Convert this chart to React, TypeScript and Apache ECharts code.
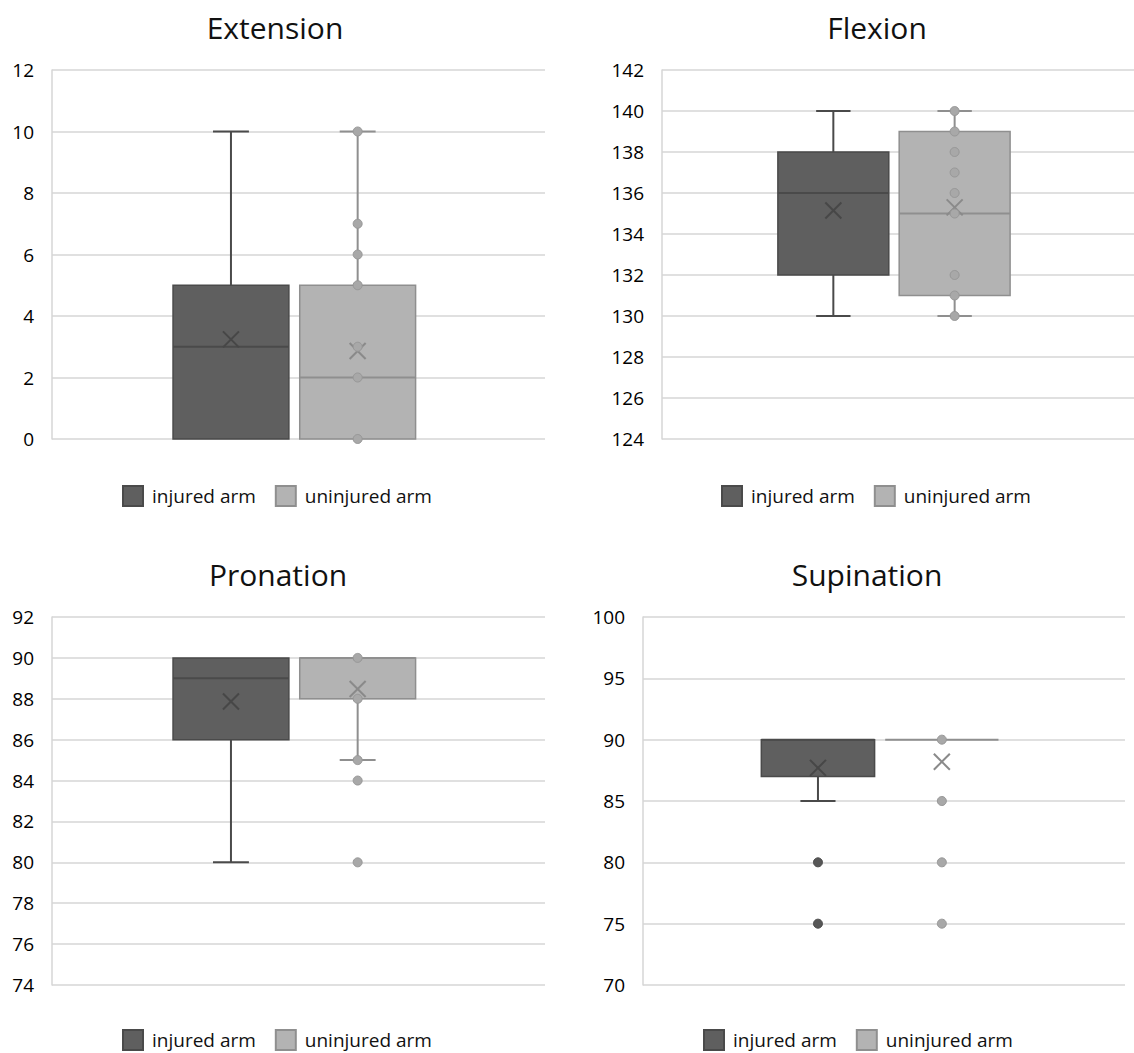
import React, { useEffect, useRef } from "react";
import * as echarts from "echarts";

// ---------- data ----------
const seriesNames = ["injured arm", "uninjured arm"];
const chartTitles = ["Extension", "Flexion", "Pronation", "Supination"];

// [min, q1, median, q3, max, mean]
const extensionInjured = [0, 0, 3, 5, 10, 3.24];
const extensionUninjured = [0, 0, 2, 5, 10, 2.86];
const flexionInjured = [130, 132, 136, 138, 140, 135.15];
const flexionUninjured = [130, 131, 135, 139, 140, 135.3];
const pronationInjured = [80, 86, 89, 90, 90, 87.87];
const pronationUninjured = [85, 88, 90, 90, 90, 88.48];
const supinationInjured = [85, 87, 90, 90, 90, 87.7];
const supinationUninjured = [90, 90, 90, 90, 90, 88.2];

// points drawn on the boxes (inner points and outliers)
const extensionInjuredPoints: number[] = [];
const extensionUninjuredPoints = [0, 2, 3, 5, 6, 7, 10];
const flexionInjuredPoints: number[] = [];
const flexionUninjuredPoints = [130, 131, 132, 135, 136, 137, 138, 139, 140];
const pronationInjuredPoints: number[] = [];
const pronationUninjuredPoints = [80, 84, 85, 88, 90];
const supinationInjuredPoints = [75, 80];
const supinationUninjuredPoints = [75, 80, 85, 90];

// axis ranges
const yMin = [0, 124, 74, 70];
const yMax = [12, 142, 92, 100];
const yStep = [2, 2, 2, 5];

const statsByChart = [
  [extensionInjured, extensionUninjured],
  [flexionInjured, flexionUninjured],
  [pronationInjured, pronationUninjured],
  [supinationInjured, supinationUninjured],
];
const pointsByChart = [
  [extensionInjuredPoints, extensionUninjuredPoints],
  [flexionInjuredPoints, flexionUninjuredPoints],
  [pronationInjuredPoints, pronationUninjuredPoints],
  [supinationInjuredPoints, supinationUninjuredPoints],
];

// ---------- layout / style ----------
const grids = [
  { left: 52, top: 70, width: 493, height: 369 },
  { left: 662, top: 70, width: 472, height: 369 },
  { left: 52, top: 617, width: 493, height: 368 },
  { left: 643, top: 617, width: 482, height: 368 },
];
const titlePos = [
  { x: 275, y: 12 },
  { x: 877, y: 12 },
  { x: 278, y: 559 },
  { x: 867, y: 559 },
];
const legendPos = [
  { x: 122, y: 485 },
  { x: 721, y: 485 },
  { x: 122, y: 1029 },
  { x: 703, y: 1029 },
];

const offsets = [-0.137, 0.12];
const boxFrac = 0.235;
const styles = [
  { fill: "#5f5f5f", stroke: "#4a4a4a", mean: "#474747", point: "#575757", pointStroke: "#4a4a4a" },
  { fill: "#b3b3b3", stroke: "#8f8f8f", mean: "#8a8a8a", point: "#a8a8a8", pointStroke: "#979797" },
];

const FONT = "'Open Sans', 'Noto Sans', sans-serif";

function makeBoxRender(off: number, st: any) {
  return (params: any, api: any) => {
    const band = api.size([1, 0])[0];
    const cx = api.coord([api.value(0), api.value(3)])[0] + off * band;
    const y = (v: number) => api.coord([api.value(0), v])[1];
    const mn = api.value(1), q1 = api.value(2), md = api.value(3), q3 = api.value(4), mx = api.value(5), mean = api.value(6);
    const bw = band * boxFrac;
    const cap = bw * 0.31;
    const lineStyle = { stroke: st.stroke, lineWidth: 2 };
    const children: any[] = [];
    if (mn < q1) {
      children.push({ type: "line", shape: { x1: cx, y1: y(mn), x2: cx, y2: y(q1) }, style: lineStyle });
      children.push({ type: "line", shape: { x1: cx - cap / 2, y1: y(mn), x2: cx + cap / 2, y2: y(mn) }, style: lineStyle });
    }
    if (mx > q3) {
      children.push({ type: "line", shape: { x1: cx, y1: y(mx), x2: cx, y2: y(q3) }, style: lineStyle });
      children.push({ type: "line", shape: { x1: cx - cap / 2, y1: y(mx), x2: cx + cap / 2, y2: y(mx) }, style: lineStyle });
    }
    if (q3 > q1) {
      children.push({
        type: "rect",
        shape: { x: cx - bw / 2, y: y(q3), width: bw, height: y(q1) - y(q3) },
        style: { fill: st.fill, stroke: st.stroke, lineWidth: 1.5 },
      });
    }
    children.push({
      type: "line",
      shape: { x1: cx - bw / 2, y1: y(md), x2: cx + bw / 2, y2: y(md) },
      style: lineStyle,
    });
    const h = 8;
    const my = y(mean);
    children.push({ type: "line", shape: { x1: cx - h, y1: my - h, x2: cx + h, y2: my + h }, style: { stroke: st.mean, lineWidth: 2 } });
    children.push({ type: "line", shape: { x1: cx - h, y1: my + h, x2: cx + h, y2: my - h }, style: { stroke: st.mean, lineWidth: 2 } });
    return { type: "group", children };
  };
}

function makePointRender(off: number, st: any) {
  return (params: any, api: any) => {
    const band = api.size([1, 0])[0];
    const p = api.coord([api.value(0), api.value(1)]);
    return {
      type: "circle",
      shape: { cx: p[0] + off * band, cy: p[1], r: 4.5 },
      style: { fill: st.point, stroke: st.pointStroke, lineWidth: 1 },
    };
  };
}

function buildOption() {
  const title: any[] = [];
  const grid: any[] = [];
  const xAxis: any[] = [];
  const yAxis: any[] = [];
  const legend: any[] = [];
  const series: any[] = [];

  for (let c = 0; c < 4; c++) {
    title.push({
      text: chartTitles[c],
      left: titlePos[c].x,
      top: titlePos[c].y,
      textAlign: "center",
      padding: 0,
      textStyle: { fontFamily: FONT, fontSize: 30, fontWeight: "normal", color: "#111" },
    });
    grid.push({ ...grids[c], containLabel: false });
    xAxis.push({
      type: "category",
      gridIndex: c,
      data: ["arm"],
      axisLine: { show: false },
      axisTick: { show: false },
      axisLabel: { show: false },
      splitLine: { show: false },
    });
    yAxis.push({
      type: "value",
      gridIndex: c,
      min: yMin[c],
      max: yMax[c],
      interval: yStep[c],
      axisLine: { show: true, lineStyle: { color: "#d6d6d6", width: 1.5 } },
      axisTick: { show: false },
      axisLabel: { fontFamily: FONT, fontSize: 19, color: "#000", margin: 18 },
      splitLine: { show: true, lineStyle: { color: "#d6d6d6", width: 1.5 } },
    });
    legend.push({
      data: seriesNames,
      left: legendPos[c].x,
      top: legendPos[c].y,
      padding: 0,
      icon: "rect",
      itemWidth: 20,
      itemHeight: 20,
      itemGap: 19,
      selectedMode: false,
      textStyle: { fontFamily: FONT, fontSize: 19, lineHeight: 20, color: "#111", padding: [0, 0, 0, 4] },
    });
    for (let s = 0; s < 2; s++) {
      const st = styles[s];
      series.push({
        type: "custom",
        name: seriesNames[s],
        xAxisIndex: c,
        yAxisIndex: c,
        itemStyle: { color: st.fill, borderColor: st.stroke, borderWidth: 1.5 },
        renderItem: makeBoxRender(offsets[s], st),
        encode: { x: 0, y: [1, 2, 3, 4, 5, 6] },
        data: [[0, ...statsByChart[c][s]]],
        z: 2,
      });
    }
    for (let s = 0; s < 2; s++) {
      const st = styles[s];
      const pts = pointsByChart[c][s];
      if (!pts.length) continue;
      series.push({
        type: "custom",
        name: seriesNames[s],
        xAxisIndex: c,
        yAxisIndex: c,
        itemStyle: { color: st.fill, borderColor: st.stroke, borderWidth: 1.5 },
        renderItem: makePointRender(offsets[s], st),
        encode: { x: 0, y: 1 },
        data: pts.map((v) => [0, v]),
        z: 3,
      });
    }
  }

  return {
    animation: false,
    backgroundColor: "#ffffff",
    title,
    grid,
    xAxis,
    yAxis,
    legend,
    series,
  };
}

export default function App() {
  const ref = useRef<HTMLDivElement>(null);
  useEffect(() => {
    document.body.style.margin = "0";
    const chart = echarts.init(ref.current!, null, { renderer: "svg" });
    chart.setOption(buildOption() as any);
    return () => chart.dispose();
  }, []);
  return <div ref={ref} style={{ width: 1134, height: 1053 }} />;
}
